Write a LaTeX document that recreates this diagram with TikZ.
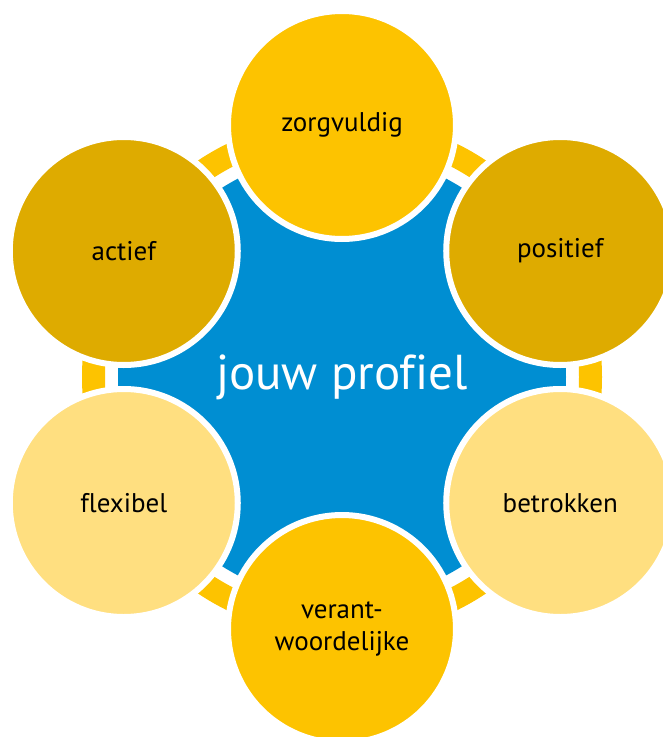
\documentclass[tikz,border=0pt]{standalone}
\usepackage{fontspec}
\setmainfont{PT Sans}[Ligatures=NoCommon]
\usetikzlibrary{positioning,calc}
\definecolor{geel}{RGB}{253,195,0}
\definecolor{donkergeel}{RGB}{222,171,0}
\definecolor{lichtgeel}{RGB}{255,223,128}
\definecolor{blauw}{RGB}{0,142,210}

\begin{document}
\begin{tikzpicture}[x=1pt,y=-1pt]
\tikzstyle{bol}=[circle,draw=white,line width=6pt,minimum size=228pt,inner sep=0pt,font=\fontsize{27}{32}\selectfont,text=black,align=center]

\useasboundingbox (0,0) rectangle (663,737);
\clip (0,0) rectangle (663,737);

\coordinate (c) at (342,377);

% ring en midden
\draw [geel,line width=23pt] (c) circle (248.5);
\node [circle,fill=blauw,minimum size=448pt,inner sep=0pt,text=white,font=\fontsize{49}{56}\selectfont] (profiel) at (c) {jouw profiel};

\node [bol,fill=geel] (zorg) at ($(c)+(-90:252)$) {zorgvuldig};
\node [bol,fill=donkergeel] (posi) at ($(c)+(-30:252)$) {positief};
\node [bol,fill=lichtgeel] (betr) at ($(c)+(30:252)$) {betrokken};
\node [bol,fill=geel] (vera) at ($(c)+(90:252)$) {verant-\\woordelijke};
\node [bol,fill=lichtgeel] (flex) at ($(c)+(150:252)$) {flexibel};
\node [bol,fill=donkergeel] (acti) at ($(c)+(-150:252)$) {actief};
\end{tikzpicture}
\end{document}
